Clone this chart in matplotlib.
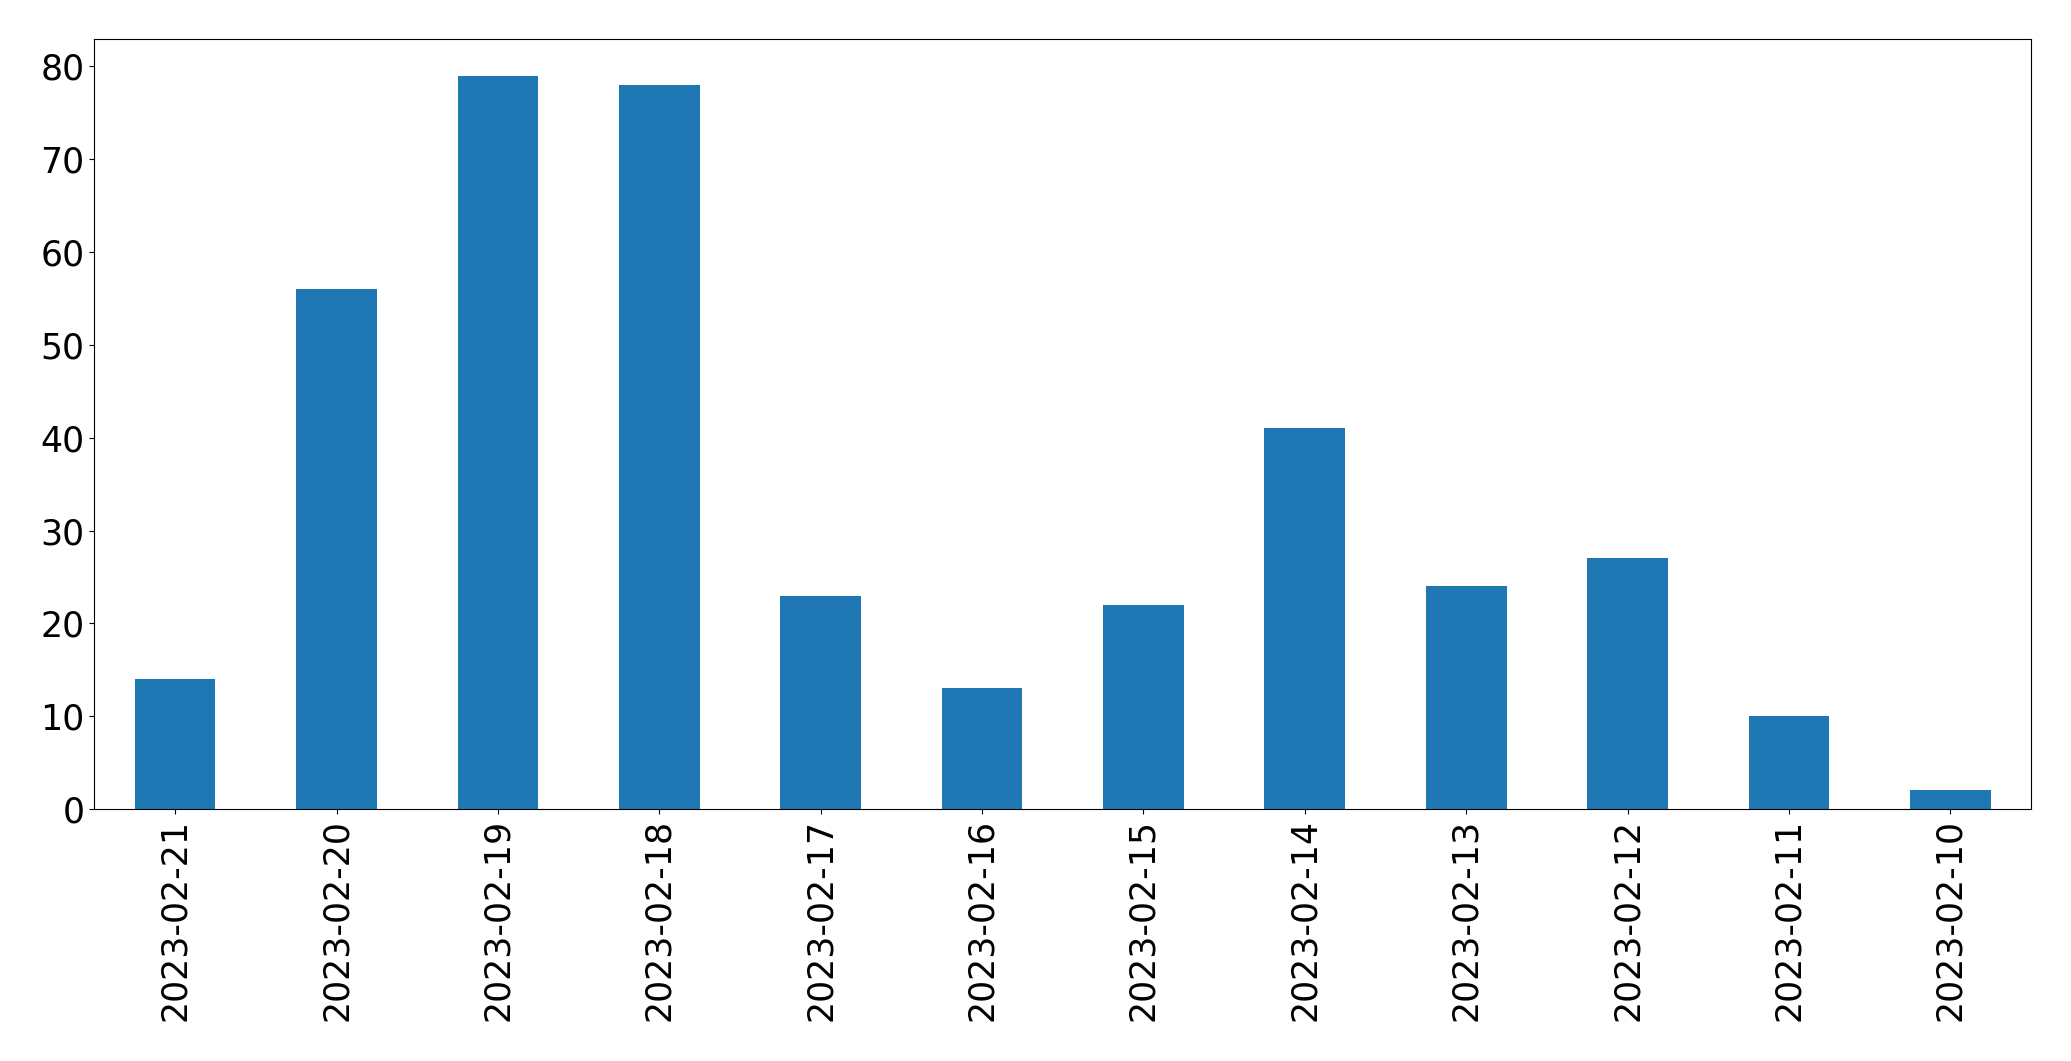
import pandas as pd
import matplotlib
matplotlib.use('Agg')
import matplotlib.pyplot as plt

# 数据
dates = ['2023-02-21', '2023-02-20', '2023-02-19', '2023-02-18', '2023-02-17', '2023-02-16',
         '2023-02-15', '2023-02-14', '2023-02-13', '2023-02-12', '2023-02-11', '2023-02-10']
counts = [14, 56, 79, 78, 23, 13, 22, 41, 24, 27, 10, 2]

s = pd.Series(counts, index=dates)

fig = plt.figure(figsize=(20.71, 10.61), dpi=100)
ax = fig.add_axes([0.0456, 0.2375, 0.9351, 0.7253])
s.plot(kind='bar', ax=ax, color='#1f77b4', fontsize=25)
ax.set_ylim(0, 82.9)

fig.savefig('out.png', dpi=100)
